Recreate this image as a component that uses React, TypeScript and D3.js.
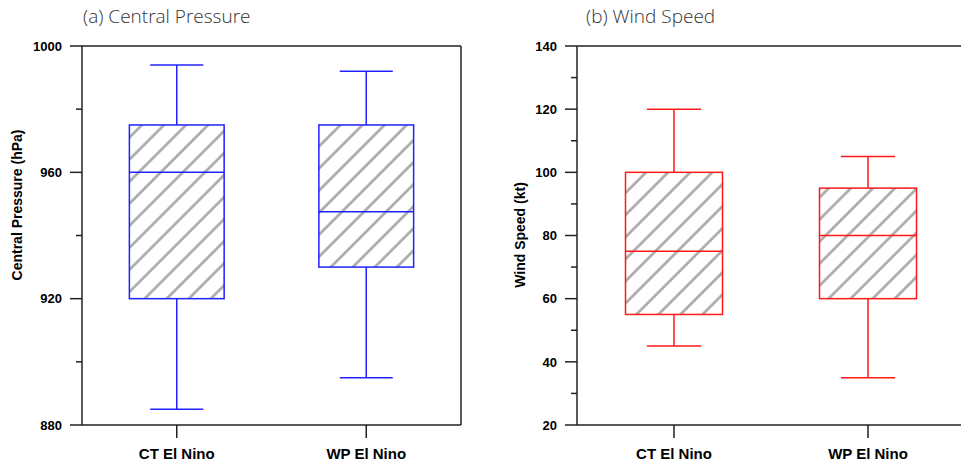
import React from "react";
import * as d3 from "d3";

const categories = ["CT El Nino", "WP El Nino"];

// [min, q1, median, q3, max]
const pressureStats = [
  [885, 920, 960, 975, 994],
  [895, 930, 947.5, 975, 992],
];
const windStats = [
  [45, 55, 75, 100, 120],
  [35, 60, 80, 95, 105],
];

const pressureTicks = [880, 920, 960, 1000];
const pressureMinor = [900, 940, 980];
const windTicks = [20, 40, 60, 80, 100, 120, 140];
const windMinor = [30, 50, 70, 90, 110, 130];

const panels = [
  {
    id: "a",
    title: "(a) Central Pressure",
    yLabel: "Central Pressure (hPa)",
    stats: pressureStats,
    domain: [880, 1000],
    ticks: pressureTicks,
    minor: pressureMinor,
    color: "#2222ff",
    x0: 82,
    x1: 461,
    titleX: 83,
    labelX: 17,
    labelY: 205,
  },
  {
    id: "b",
    title: "(b) Wind Speed",
    yLabel: "Wind Speed (kt)",
    stats: windStats,
    domain: [20, 140],
    ticks: windTicks,
    minor: windMinor,
    color: "#ff1a1a",
    x0: 577,
    x1: 965,
    titleX: 586,
    labelX: 520,
    labelY: 235,
  },
];

const TOP = 46;
const BOTTOM = 425;
const AX = "#222";

function Panel({ p }: { p: (typeof panels)[number] }) {
  const x = d3.scaleBand<string>().domain(categories).range([p.x0, p.x1]).paddingInner(0).paddingOuter(0);
  const y = d3.scaleLinear().domain(p.domain).range([BOTTOM, TOP]);
  const bw = x.bandwidth() * 0.5;
  const capW = x.bandwidth() * 0.14;
  return (
    <g>
      <text x={p.titleX} y={23} fontFamily="'Open Sans', Lato, sans-serif" fontWeight={300} fontSize={19} fill="#333">
        {p.title}
      </text>
      {categories.map((c, i) => {
        const [mn, q1, md, q3, mx] = p.stats[i];
        const cx = (x(c) as number) + x.bandwidth() / 2;
        return (
          <g key={c} stroke={p.color} strokeWidth={1.5} fill="none">
            <line x1={cx} x2={cx} y1={y(mx)} y2={y(q3)} />
            <line x1={cx} x2={cx} y1={y(q1)} y2={y(mn)} />
            <line x1={cx - capW} x2={cx + capW} y1={y(mx)} y2={y(mx)} />
            <line x1={cx - capW} x2={cx + capW} y1={y(mn)} y2={y(mn)} />
            <rect x={cx - bw / 2} y={y(q3)} width={bw} height={y(q1) - y(q3)} fill="url(#hatch)" />
            <line x1={cx - bw / 2} x2={cx + bw / 2} y1={y(md)} y2={y(md)} />
          </g>
        );
      })}
      <g stroke={AX} strokeWidth={1.5}>
        <line x1={p.x0} x2={p.x1} y1={TOP} y2={TOP} />
        <line x1={p.x0} x2={p.x1} y1={BOTTOM} y2={BOTTOM} />
        <line x1={p.x0} x2={p.x0} y1={TOP} y2={BOTTOM} />
        <line x1={p.x1} x2={p.x1} y1={TOP} y2={BOTTOM} />
        {p.ticks.map((t) => (
          <line key={t} x1={p.x0 - 12} x2={p.x0} y1={y(t)} y2={y(t)} />
        ))}
        {p.minor.map((t) => (
          <line key={t} x1={p.x0 - 6} x2={p.x0} y1={y(t)} y2={y(t)} />
        ))}
        {categories.map((c) => {
          const cx = (x(c) as number) + x.bandwidth() / 2;
          return <line key={c} x1={cx} x2={cx} y1={BOTTOM} y2={BOTTOM + 13} />;
        })}
      </g>
      <g fontFamily="'Liberation Sans', Arial, sans-serif" fontWeight="bold" fill="#000">
        {p.ticks.map((t) => (
          <text key={t} x={p.x0 - 20} y={y(t)} dy="0.36em" textAnchor="end" fontSize={13}>
            {t}
          </text>
        ))}
        {categories.map((c) => {
          const cx = (x(c) as number) + x.bandwidth() / 2;
          return (
            <text key={c} x={cx} y={459} textAnchor="middle" fontSize={15}>
              {c}
            </text>
          );
        })}
        <text
          transform={`translate(${p.labelX},${p.labelY}) rotate(-90)`}
          dy="0.36em"
          textAnchor="middle"
          fontSize={14}
        >
          {p.yLabel}
        </text>
      </g>
    </g>
  );
}

export default function App() {
  return (
    <svg width={961} height={463} style={{ position: "absolute", left: 0, top: 0, background: "#fff" }}>
      <defs>
        <pattern id="hatch" patternUnits="userSpaceOnUse" width={15.6} height={15.6} patternTransform="rotate(45)">
          <line x1={1.5} y1={-1} x2={1.5} y2={16.6} stroke="#a8a8a8" strokeWidth={2.6} />
        </pattern>
      </defs>
      <rect width={961} height={463} fill="#fff" />
      {panels.map((p) => (
        <Panel key={p.id} p={p} />
      ))}
    </svg>
  );
}
